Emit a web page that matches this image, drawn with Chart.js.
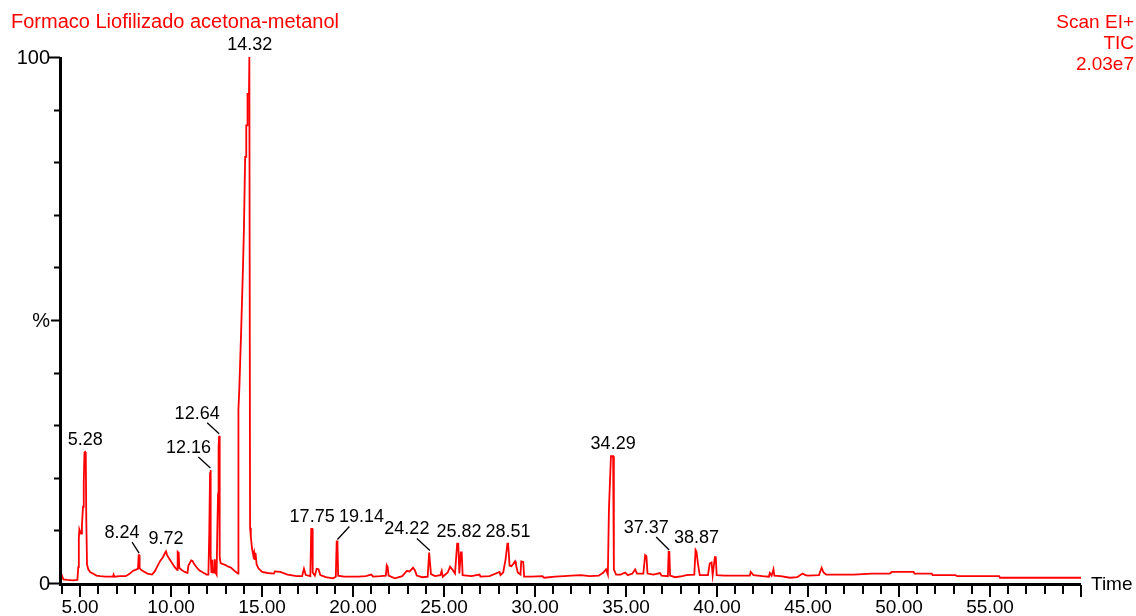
<!DOCTYPE html>
<html>
<head>
<meta charset="utf-8">
<script src="https://cdn.jsdelivr.net/npm/chart.js@4"></script>
<style>
  html, body { margin: 0; padding: 0; background: #fff; }
  canvas { display: block; }
</style>
</head>
<body>
<canvas id="tic" width="1136" height="616"></canvas>
<script>
// retention time (min) and relative abundance (%)
const times = [
  3.96, 4.02, 4.08, 4.3, 4.6, 4.85, 4.9, 4.93, 4.96, 5.0, 5.05, 5.1, 5.16, 5.2, 5.24, 5.28, 5.31, 5.34, 5.38, 5.45,
  5.55, 5.7, 5.9, 6.1, 6.4, 6.8, 6.84, 6.88, 7.2, 7.5, 7.7, 7.9, 8.1, 8.18, 8.22, 8.24, 8.27, 8.35, 8.5, 8.7,
  8.95, 9.1, 9.25, 9.4, 9.55, 9.65, 9.72, 9.78, 9.9, 10.05, 10.2, 10.33, 10.36, 10.42, 10.45, 10.6, 10.75, 10.9, 10.95, 11.0,
  11.1, 11.18, 11.25, 11.4, 11.55, 11.75, 11.95, 12.05, 12.1, 12.14, 12.16, 12.19, 12.22, 12.27, 12.31, 12.36, 12.4, 12.44, 12.5, 12.54,
  12.58, 12.61, 12.64, 12.67, 12.72, 12.85, 13.0, 13.15, 13.3, 13.45, 13.6, 13.68, 13.7, 13.75, 13.85, 13.95, 14.0, 14.03, 14.06, 14.07,
  14.12, 14.13, 14.18, 14.2, 14.28, 14.3, 14.32, 14.34, 14.38, 14.45, 14.52, 14.56, 14.6, 14.64, 14.7, 14.8, 15.0, 15.3, 15.65, 15.7,
  16.0, 16.4, 16.9, 17.2, 17.3, 17.4, 17.65, 17.7, 17.75, 17.78, 17.9, 18.0, 18.1, 18.2, 18.5, 18.9, 19.05, 19.1, 19.14, 19.18,
  19.5, 20.0, 20.3, 20.7, 21.0, 21.1, 21.5, 21.8, 21.85, 21.9, 21.95, 22.3, 22.7, 22.95, 23.1, 23.3, 23.4, 23.5, 23.8, 24.1,
  24.18, 24.22, 24.28, 24.5, 24.8, 24.87, 24.93, 25.2, 25.33, 25.45, 25.6, 25.72, 25.78, 25.84, 25.92, 25.97, 26.02, 26.5, 26.95, 27.0,
  27.5, 28.05, 28.1, 28.25, 28.38, 28.48, 28.52, 28.6, 28.7, 28.8, 28.9, 28.95, 29.05, 29.2, 29.24, 29.35, 29.4, 29.8, 30.4, 30.5,
  31.1, 31.6, 32.0, 32.5, 33.0, 33.5, 33.75, 33.9, 34.0, 34.06, 34.1, 34.17, 34.29, 34.33, 34.45, 34.7, 34.95, 35.1, 35.35, 35.5,
  35.6, 35.95, 36.05, 36.12, 36.18, 36.5, 36.87, 36.95, 37.3, 37.34, 37.38, 37.42, 37.7, 38.1, 38.3, 38.75, 38.82, 38.87, 38.95, 39.05,
  39.5, 39.6, 39.7, 39.76, 39.88, 39.93, 39.98, 40.4, 41.0, 41.8, 41.85, 42.0, 42.5, 42.85, 42.9, 43.0, 43.1, 43.15, 43.5, 44.0,
  44.4, 44.7, 44.85, 45.0, 45.6, 45.75, 45.85, 46.0, 46.4, 47.0, 47.5, 48.0, 48.5, 49.5, 49.6, 50.8, 50.85, 51.8, 51.85, 53.1,
  53.2, 55.5, 55.55, 60.0
];
const intensity = [
  1.8, 1.2, 0.7, 0.6, 0.5, 0.6, 3.0, 8.5, 10.2, 9.8, 9.4, 11.0, 14.5, 19.0, 24.8, 24.9, 24.6, 12.0, 3.5, 2.6,
  2.1, 1.8, 1.4, 1.3, 1.2, 1.2, 1.6, 1.2, 1.3, 1.3, 1.7, 2.3, 2.6, 2.7, 5.3, 5.3, 2.8, 2.5, 2.2, 1.8,
  1.6, 2.2, 3.2, 4.2, 4.9, 5.6, 6.0, 5.3, 4.6, 3.8, 3.0, 2.5, 5.9, 5.7, 2.9, 2.4, 2.1, 1.9, 3.3, 3.6,
  4.3, 4.2, 3.7, 3.0, 2.4, 2.0, 1.6, 1.6, 10.0, 21.0, 21.5, 5.0, 1.9, 4.4, 2.0, 2.0, 4.5, 2.0, 1.6, 10.0,
  17.0, 26.0, 28.0, 5.0, 3.8, 3.6, 3.4, 3.1, 2.9, 2.4, 2.0, 1.8, 33.0, 37.0, 48.0, 60.0, 67.0, 73.0, 73.0, 81.0,
  81.0, 87.0, 87.0, 93.0, 93.0, 100, 100, 10.5, 8.8, 6.5, 5.2, 5.8, 4.4, 5.7, 3.5, 2.8, 2.1, 1.9, 1.8, 2.2,
  2.1, 1.6, 1.3, 1.3, 2.7, 1.5, 1.3, 10.3, 10.3, 2.0, 1.4, 2.7, 2.6, 1.5, 1.1, 0.9, 1.2, 7.9, 7.9, 1.4,
  1.2, 1.2, 1.2, 1.3, 1.6, 1.2, 1.3, 1.4, 3.4, 3.1, 1.4, 0.9, 1.3, 2.3, 2.2, 2.9, 2.4, 1.4, 1.1, 1.2,
  5.8, 5.8, 1.7, 1.3, 1.5, 2.3, 1.2, 2.0, 3.1, 2.6, 1.8, 7.5, 7.5, 1.8, 5.8, 5.8, 1.5, 1.3, 1.6, 1.2,
  1.3, 2.1, 1.5, 2.0, 4.5, 7.5, 7.5, 3.3, 3.2, 3.6, 4.1, 3.5, 2.0, 1.6, 4.1, 4.0, 1.2, 1.2, 1.3, 1.0,
  1.2, 1.3, 1.4, 1.5, 1.3, 1.4, 2.0, 2.6, 1.6, 14.0, 17.7, 24.1, 24.1, 2.6, 1.6, 1.6, 2.0, 1.5, 1.8, 2.6,
  1.8, 1.8, 5.3, 5.1, 1.8, 1.6, 1.9, 1.4, 1.3, 5.9, 5.9, 1.4, 1.1, 1.3, 1.5, 1.6, 6.3, 6.0, 3.7, 1.5,
  1.5, 3.7, 3.9, 1.5, 4.9, 4.9, 1.5, 1.4, 1.4, 1.4, 2.1, 1.5, 1.3, 1.2, 1.9, 1.4, 2.6, 1.4, 1.3, 1.0,
  1.1, 1.8, 1.5, 1.4, 1.5, 2.9, 2.0, 1.6, 1.6, 1.6, 1.6, 1.7, 1.8, 1.8, 2.1, 2.1, 1.8, 1.8, 1.5, 1.5,
  1.3, 1.3, 1.0, 1.0
];

// labelled peaks
const peakTimes = [5.28, 8.24, 9.72, 12.16, 12.64, 14.32, 17.75, 19.14, 24.22, 25.82, 28.51, 34.29, 37.37, 38.87];

// axis ticks
const xMajorTicks = [5, 10, 15, 20, 25, 30, 35, 40, 45, 50, 55];
const xTickLabels = ['5.00', '10.00', '15.00', '20.00', '25.00', '30.00', '35.00', '40.00', '45.00', '50.00', '55.00'];
const yTickValues = [0, 50, 100];
const yTickLabels = ['0', '%', '100'];

const titleText = 'Formaco Liofilizado acetona-metanol';
const headerLines = ['Scan EI+', 'TIC', '2.03e7'];

// where each peak label sits relative to its peak (px), leader = draw a tick line to it
const labelPlacement = {
  '8.24':  { dx: -17, dy: -22, leader: true },
  '12.16': { dx: -22, dy: -22, leader: true },
  '12.64': { dx: -22, dy: -22, leader: true },
  '19.14': { dx: 24, dy: -24, leader: true },
  '24.22': { dx: -23, dy: -23, leader: true },
  '37.37': { dx: -23, dy: -24, leader: true }
};

const RED = '#ff0000';
const FONT = '"Liberation Sans", Arial, sans-serif';

function peakHeight(t) {
  let best = 0;
  times.forEach((x, i) => {
    if (Math.abs(x - t) <= 0.07 && intensity[i] > best) best = intensity[i];
  });
  return best;
}

const drawFrame = {
  id: 'drawFrame',
  afterDraw(chart) {
    const ctx = chart.ctx;
    const xs = chart.scales.x, ys = chart.scales.y;
    const area = chart.chartArea;
    ctx.save();

    // axes
    ctx.strokeStyle = '#000';
    ctx.lineWidth = 3;
    ctx.beginPath();
    ctx.moveTo(area.left - 0.5, area.top);
    ctx.lineTo(area.left - 0.5, area.bottom + 1.5);
    ctx.lineTo(area.right, area.bottom + 1.5);
    ctx.stroke();

    // x ticks every minute, y ticks every 10 %
    ctx.lineWidth = 2;
    ctx.beginPath();
    for (let t = 4; t <= 60; t++) {
      const px = Math.round(xs.getPixelForValue(t));
      const len = (t % 5 === 0) ? 12 : 9;
      ctx.moveTo(px, area.bottom + 2);
      ctx.lineTo(px, area.bottom + 2 + len);
    }
    for (let v = 0; v <= 100; v += 10) {
      const py = Math.round(ys.getPixelForValue(v)) + 0.5;
      const len = (v === 0 || v === 100) ? 11 : (v === 50 ? 9 : 6);
      ctx.moveTo(area.left - 1, py);
      ctx.lineTo(area.left - 1 - len, py);
    }
    ctx.stroke();

    ctx.fillStyle = '#000';
    ctx.font = '19px ' + FONT;
    ctx.textAlign = 'center';
    ctx.textBaseline = 'alphabetic';
    xMajorTicks.forEach((t, i) => {
      ctx.fillText(xTickLabels[i], xs.getPixelForValue(t), area.bottom + 30);
    });
    ctx.textAlign = 'left';
    ctx.textBaseline = 'middle';
    ctx.fillText('Time', area.right + 10, area.bottom + 2);

    ctx.font = '20px ' + FONT;
    ctx.textAlign = 'right';
    yTickValues.forEach((v, i) => {
      ctx.fillText(yTickLabels[i], area.left - 11, ys.getPixelForValue(v) + 1);
    });

    // peak labels
    ctx.font = '18px ' + FONT;
    ctx.textAlign = 'center';
    ctx.textBaseline = 'middle';
    ctx.lineWidth = 1.3;
    peakTimes.forEach(t => {
      const label = t.toFixed(2);
      const px = xs.getPixelForValue(t);
      const py = ys.getPixelForValue(peakHeight(t));
      const p = labelPlacement[label];
      if (p) {
        const cx = px + p.dx, cy = py + p.dy;
        ctx.fillText(label, cx, cy);
        const sx = cx + (p.dx < 0 ? 10 : -12);
        ctx.beginPath();
        ctx.moveTo(sx, cy + 9);
        ctx.lineTo(px, py - 2);
        ctx.stroke();
      } else {
        ctx.fillText(label, px, py - 12);
      }
    });

    // header texts
    ctx.fillStyle = RED;
    ctx.font = '20px ' + FONT;
    ctx.textAlign = 'left';
    ctx.textBaseline = 'alphabetic';
    ctx.fillText(titleText, 11, 28);
    ctx.font = '19px ' + FONT;
    ctx.textAlign = 'right';
    headerLines.forEach((s, i) => {
      ctx.fillText(s, 1134, 28 + i * 21);
    });

    ctx.restore();
  }
};

new Chart(document.getElementById('tic'), {
  type: 'line',
  data: {
    datasets: [{
      data: times.map((t, i) => ({ x: t, y: intensity[i] })),
      borderColor: RED,
      borderWidth: 1.8,
      pointRadius: 0,
      tension: 0,
      fill: false
    }]
  },
  options: {
    responsive: false,
    animation: false,
    layout: { padding: { left: 61, right: 55, top: 57, bottom: 33 } },
    plugins: { legend: { display: false }, tooltip: { enabled: false } },
    scales: {
      x: { type: 'linear', min: 3.95, max: 60, display: false },
      y: { min: 0, max: 100, display: false }
    }
  },
  plugins: [drawFrame]
});
</script>
</body>
</html>
